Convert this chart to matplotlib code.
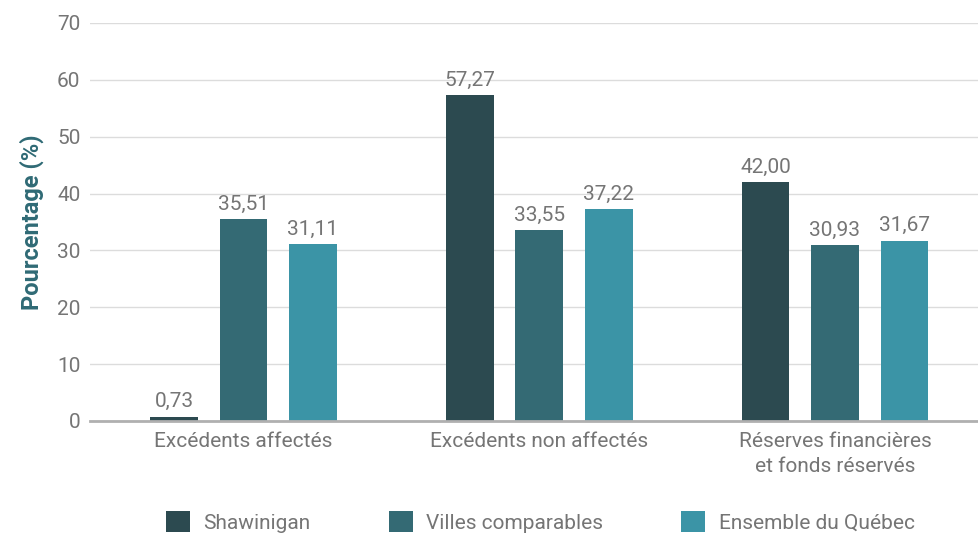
import matplotlib.pyplot as plt
import numpy as np

plt.rcParams['font.family'] = ['Roboto', 'DejaVu Sans']

categories = ['Excédents affectés', 'Excédents non affectés',
              'Réserves financières\net fonds réservés']
series = ['Shawinigan', 'Villes comparables', 'Ensemble du Québec']
shawinigan = [0.73, 57.27, 42.00]
villes = [35.51, 33.55, 30.93]
quebec = [31.11, 37.22, 31.67]
colors = ['#2c4a50', '#346a74', '#3b94a6']

txt = '#757575'
fs = 15

fig = plt.figure(figsize=(9.79, 5.36), dpi=100)
ax = fig.add_axes([0.092, 0.2146, 0.908, 0.7425])

x = np.arange(len(categories))
w = 0.162
step = 0.235
for i, (name, vals) in enumerate(zip(series, [shawinigan, villes, quebec])):
    pos = x + (i - 1) * step
    bars = ax.bar(pos, vals, width=w, color=colors[i], label=name, zorder=3)
    for b, v in zip(bars, vals):
        ax.annotate(f'{v:.2f}'.replace('.', ','), (b.get_x() + b.get_width() / 2, v),
                    xytext=(0, 4), textcoords='offset points',
                    ha='center', va='bottom', fontsize=fs, color=txt)

ax.set_xlim(-0.519, 2.487)
ax.set_ylim(0, 70)
ax.set_yticks(range(0, 71, 10))
ax.set_xticks(x)
ax.set_xticklabels(categories, fontsize=fs, color=txt, linespacing=1.42)
ax.tick_params(axis='y', labelsize=fs, labelcolor=txt, length=0, pad=7)
ax.tick_params(axis='x', length=0, pad=8)
ax.grid(axis='y', color='#dcdcdc', linewidth=1, zorder=0)
for s in ['top', 'right', 'left']:
    ax.spines[s].set_visible(False)
ax.spines['bottom'].set_color('#b0b0b0')
ax.spines['bottom'].set_linewidth(2)
ax.spines['bottom'].set_zorder(4)

ax.set_ylabel('Pourcentage (%)', fontsize=17, fontweight='bold', color='#2f6a75', labelpad=9)

fig.legend(loc='lower center', bbox_to_anchor=(0.552, -0.029), ncol=3, frameon=False,
           fontsize=fs, labelcolor=txt, handlelength=1.15, handleheight=1.15,
           columnspacing=3.75, handletextpad=0.65)

fig.savefig('out.png', dpi=100)
